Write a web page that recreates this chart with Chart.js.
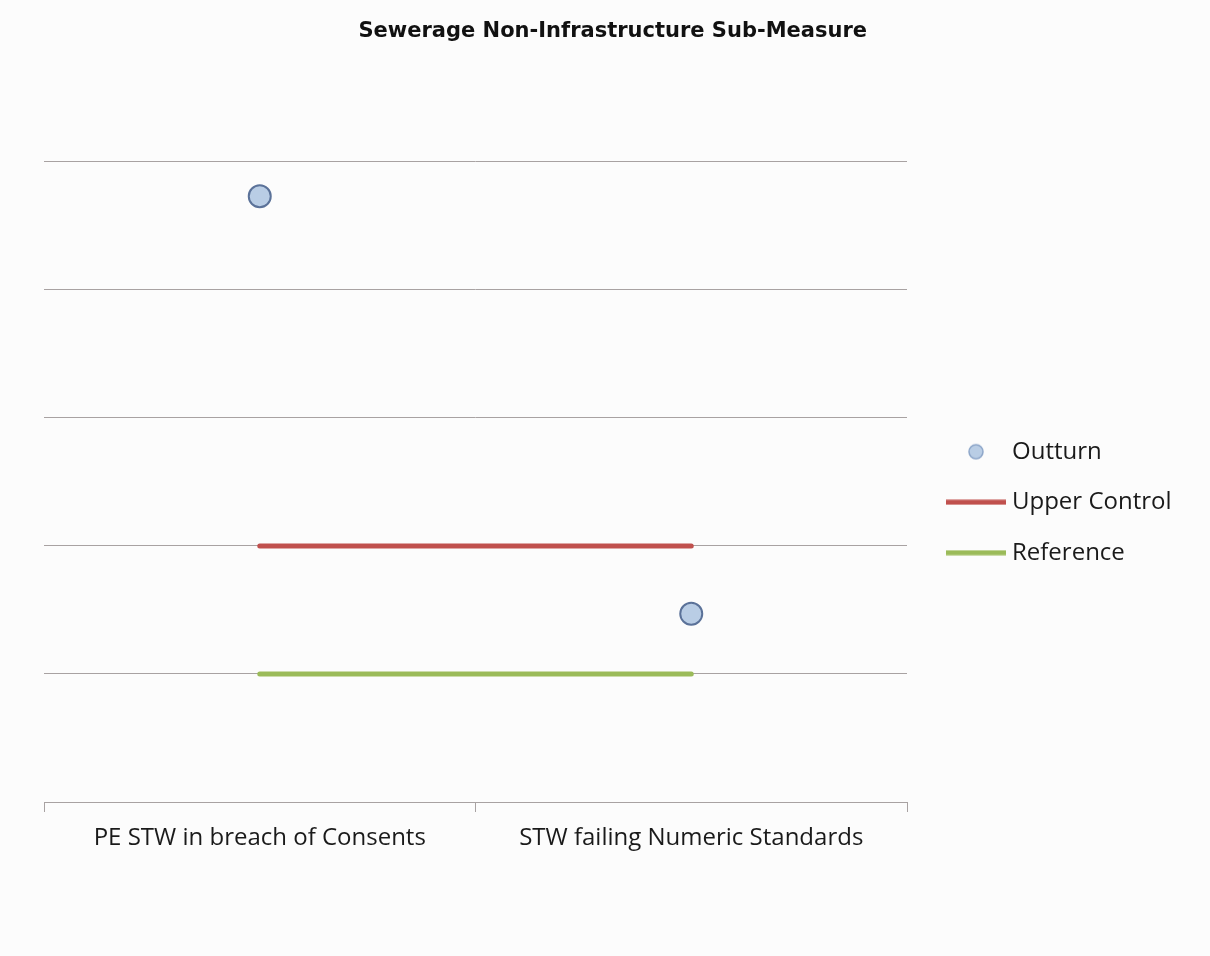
<!DOCTYPE html>
<html>
<head>
<meta charset="utf-8">
<script src="https://cdn.jsdelivr.net/npm/chart.js@4/dist/chart.umd.min.js"></script>
<style>
    body { margin: 0; background: #fcfcfc; }
    canvas { display: block; }
</style>
</head>
<body>
<canvas id="subMeasure" width="1210" height="956"></canvas>
<script>
var categories = ["PE STW in breach of Consents", "STW failing Numeric Standards"];
var outturn = [4.73, 1.47];
var upperControl = [2, 2];
var reference = [1, 1];
var yTicks = [0, 1, 2, 3, 4, 5];
var seriesNames = ["Outturn", "Upper Control", "Reference"];

var GRID = "#a8a2a2";
var RED = "#c0504d";
var GREEN = "#9bbb59";
var TEXT = "#1a1a1a";
var LABEL_FONT = { family: "Open Sans", size: 24 };

// legend geometry: rows 50.5px apart, marker 48px wide, names starting at x=1012
var ROW = 50.5;
var MARK_W = 48;
var NAME_X = 1012;
var PLOT_RIGHT = 907;
var legendPad = ROW - LABEL_FONT.size;
var legendLeft = NAME_X - LABEL_FONT.size / 2 - MARK_W - legendPad;

var measure = document.createElement("canvas").getContext("2d");
measure.font = LABEL_FONT.size + "px \"" + LABEL_FONT.family + "\"";
var widestName = Math.max.apply(null, seriesNames.map(function (t) { return measure.measureText(t).width; }));
var rightPad = Math.max(0, 1210 - (NAME_X + widestName + 10));

// small canvases used as legend markers
function legendMark(kind, color) {
    var c = document.createElement("canvas");
    var ctx = c.getContext("2d");
    if (kind == "circle") {
        c.width = 20;
        c.height = 20;
        ctx.beginPath();
        ctx.arc(10, 10, 7, 0, Math.PI * 2);
        ctx.fillStyle = color;
        ctx.fill();
        ctx.lineWidth = 1.5;
        ctx.strokeStyle = "#8da6c9";
        ctx.stroke();
    } else {
        c.width = 60;
        c.height = 6;
        ctx.fillStyle = color;
        ctx.fillRect(0, 0.5, 60, 5);
    }
    return c;
}

var marks = [legendMark("circle", "#b9cde5"), legendMark("line", RED), legendMark("line", GREEN)];

new Chart(document.getElementById("subMeasure"), {
    type: "line",
    data: {
        labels: categories,
        datasets: [
            {
                label: seriesNames[0],
                data: outturn,
                showLine: false,
                pointRadius: 11,
                pointBorderWidth: 2,
                pointBackgroundColor: "#b9cde5",
                pointBorderColor: "#5b7299"
            },
            {
                label: seriesNames[1],
                data: upperControl,
                borderColor: RED,
                borderWidth: 5,
                borderCapStyle: "round",
                pointRadius: 0
            },
            {
                label: seriesNames[2],
                data: reference,
                borderColor: GREEN,
                borderWidth: 5,
                borderCapStyle: "round",
                pointRadius: 0
            }
        ]
    },
    options: {
        responsive: false,
        animation: false,
        layout: {
            padding: { left: 44, right: rightPad, top: 0, bottom: 0 }
        },
        plugins: {
            title: {
                display: true,
                text: "Sewerage Non-Infrastructure Sub-Measure",
                color: "#111",
                font: { family: "DejaVu Sans", size: 21, weight: "bold" },
                padding: { top: 19, bottom: 117.5 }
            },
            legend: {
                position: "right",
                // empty title pushes the rows down to sit around y=502
                title: { display: true, text: "", font: { size: 12 }, padding: { top: 34, bottom: 0 } },
                labels: {
                    usePointStyle: true,
                    pointStyleWidth: MARK_W,
                    padding: legendPad,
                    color: TEXT,
                    font: LABEL_FONT,
                    generateLabels: function (chart) {
                        return chart.data.datasets.map(function (ds, i) {
                            return {
                                text: ds.label,
                                pointStyle: marks[i],
                                fontColor: TEXT,
                                fillStyle: "transparent",
                                strokeStyle: "transparent",
                                lineWidth: 0,
                                datasetIndex: i
                            };
                        });
                    }
                }
            },
            tooltip: { enabled: false }
        },
        scales: {
            x: {
                type: "category",
                offset: true,
                grid: { offset: true, drawOnChartArea: false, tickLength: 10, color: GRID },
                border: { display: true, color: GRID },
                ticks: { color: TEXT, font: LABEL_FONT, padding: 12, maxRotation: 0 },
                afterFit: function (s) { s.height = 154; }
            },
            y: {
                position: "right",
                min: 0,
                max: 5,
                afterBuildTicks: function (s) { s.ticks = yTicks.map(function (v) { return { value: v }; }); },
                grid: { color: GRID, drawTicks: false },
                border: { display: false },
                ticks: { display: false },
                afterFit: function (s) { s.width = legendLeft - PLOT_RIGHT; }
            }
        }
    }
});
</script>
</body>
</html>
